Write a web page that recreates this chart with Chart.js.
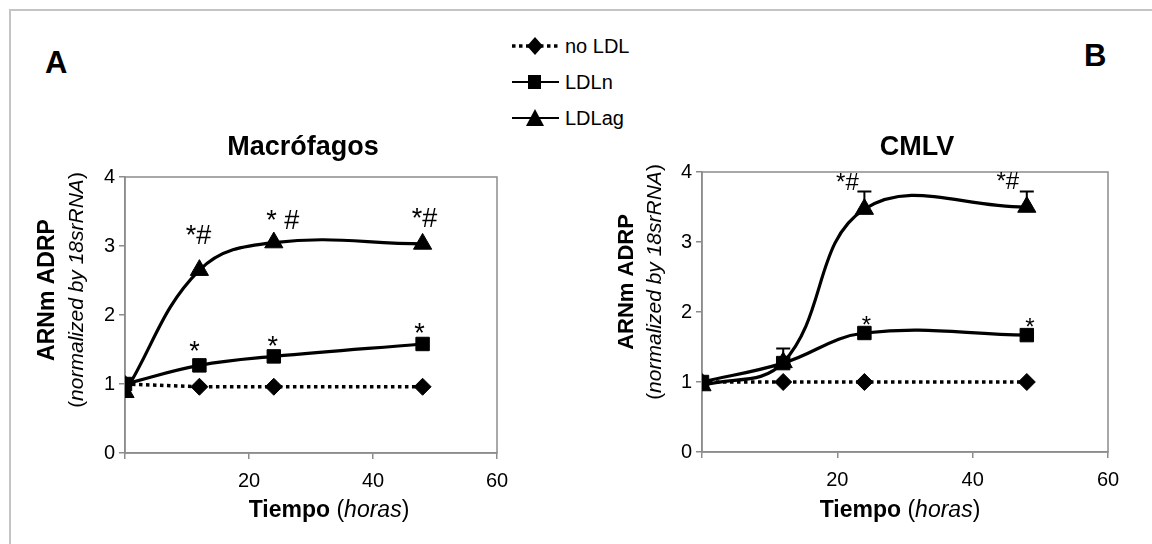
<!DOCTYPE html>
<html>
<head>
<meta charset="utf-8">
<script src="https://cdn.jsdelivr.net/npm/chart.js@4.4.0/dist/chart.umd.min.js"></script>
<style>
  html, body { margin: 0; padding: 0; background: #fff; }
  #page { position: relative; width: 1152px; height: 544px; overflow: hidden;
          font-family: "Liberation Sans", Arial, sans-serif; color: #000; }
  #frame { position: absolute; left: 9px; top: 9px; width: 1200px; height: 600px;
           border-left: 2px solid #c4c4c4; border-top: 2px solid #c4c4c4; }
  .panel { position: absolute; top: 0; }
  .letter { position: absolute; font-weight: bold; font-size: 31px; line-height: 1; }
  .leg { position: absolute; left: 511px; height: 22px; }
  .leg svg { position: absolute; left: 0; top: 0; }
  .leg span { position: absolute; left: 54px; top: 0; font-size: 20px; line-height: 22px; white-space: nowrap; }
</style>
</head>
<body>
<div id="page">
  <div id="frame"></div>
  <div class="letter" style="left:45px; top:47px;">A</div>
  <div class="letter" style="left:1084px; top:40px;">B</div>

  <div class="leg" style="top:35px;">
    <svg width="50" height="22"><line x1="1" y1="11" x2="48" y2="11" stroke="#000" stroke-width="3.5" stroke-dasharray="3.5 3.5"/>
      <polygon points="24,2 32,11 24,20 16,11" fill="#000"/></svg>
    <span>no LDL</span>
  </div>
  <div class="leg" style="top:71px;">
    <svg width="50" height="22"><line x1="1" y1="11" x2="48" y2="11" stroke="#000" stroke-width="2"/>
      <rect x="17" y="4" width="13" height="14" fill="#000"/></svg>
    <span>LDLn</span>
  </div>
  <div class="leg" style="top:107px;">
    <svg width="50" height="22"><line x1="1" y1="11" x2="48" y2="11" stroke="#000" stroke-width="2"/>
      <polygon points="24,2 33,19 15,19" fill="#000"/></svg>
    <span>LDLag</span>
  </div>

  <canvas id="macro" class="panel" style="left:0px;" width="576" height="544"></canvas>
  <canvas id="cmlv" class="panel" style="left:576px;" width="576" height="544"></canvas>
</div>

<script>
// time points (hours)
const hours = [0, 12, 24, 48];
const xTicks = [0, 20, 40, 60];
const yTicks = [0, 1, 2, 3, 4];

// Macrófagos
const macroNoLdl = [1.0, 0.96, 0.96, 0.96];
const macroLdln = [1.0, 1.27, 1.40, 1.58];
const macroLdlag = [0.88, 2.65, 3.05, 3.03];
const macroLdlnMarks = ['', '*', '*', '*'];
const macroLdlagMarks = ['', '*#', '* #', '*#'];

// CMLV
const cmlvNoLdl = [1.0, 1.0, 1.0, 1.0];
const cmlvLdln = [1.0, 1.27, 1.70, 1.67];
const cmlvLdlag = [0.95, 1.28, 3.47, 3.50];
const cmlvLdlnErr = [null, 1.48, null, null];
const cmlvLdlagErr = [null, null, 3.72, 3.72];
const cmlvLdlnMarks = ['', '', '*', '*'];
const cmlvLdlagMarks = ['', '', '*#', '*#'];

const FONT = '"Liberation Sans", Arial, sans-serif';
const AXIS = '#8c8c8c';

function pts(vals) {
    return vals.map((v, i) => ({ x: hours[i], y: v }));
}

// draws text made of parts with different fonts, centred on cx
function drawRich(ctx, parts, cx, cy) {
    let total = 0;
    parts.forEach(p => { ctx.font = p.font; p.w = ctx.measureText(p.text).width; total += p.w; });
    let xx = cx - total / 2;
    ctx.textAlign = 'left';
    parts.forEach(p => { ctx.font = p.font; ctx.fillText(p.text, xx, cy); xx += p.w; });
}

const panelDecor = {
    id: 'panelDecor',
    beforeDatasetsDraw(chart, args, o) {
        const { ctx, chartArea: a, scales: { x, y } } = chart;
        ctx.save();
        // plot box
        ctx.strokeStyle = AXIS;
        ctx.lineWidth = 1.5;
        ctx.strokeRect(a.left, a.top, a.right - a.left, a.bottom - a.top);
        // error bars
        ctx.strokeStyle = '#000';
        ctx.lineWidth = 2;
        (o.errors || []).forEach(e => {
            e.top.forEach((t, i) => {
                if (t == null) return;
                const px = x.getPixelForValue(hours[i]);
                const y0 = y.getPixelForValue(e.base[i]);
                const y1 = y.getPixelForValue(t);
                ctx.beginPath();
                ctx.moveTo(px, y0); ctx.lineTo(px, y1);
                ctx.moveTo(px - 7, y1); ctx.lineTo(px + 7, y1);
                ctx.stroke();
            });
        });
        ctx.restore();
    },
    afterDraw(chart, args, o) {
        const { ctx, scales: { x, y } } = chart;
        ctx.save();
        ctx.fillStyle = '#000';
        ctx.textBaseline = 'middle';
        // panel title
        ctx.font = 'bold 27px ' + FONT;
        ctx.textAlign = 'center';
        ctx.fillText(o.title, o.titleX, o.titleY);
        // x title
        drawRich(ctx, [
            { text: 'Tiempo ', font: 'bold 23px ' + FONT },
            { text: '(', font: '23px ' + FONT },
            { text: 'horas', font: 'italic 23px ' + FONT },
            { text: ')', font: '23px ' + FONT }
        ], o.xTitleX, o.xTitleY);
        // y title, two rotated lines
        ctx.save();
        ctx.translate(o.yTitleX1, o.yTitleY);
        ctx.rotate(-Math.PI / 2);
        drawRich(ctx, [{ text: 'ARNm ADRP', font: 'bold ' + o.yFont1 + 'px ' + FONT }], 0, 0);
        ctx.restore();
        ctx.save();
        ctx.translate(o.yTitleX2, o.yTitleY);
        ctx.rotate(-Math.PI / 2);
        drawRich(ctx, [
            { text: '(', font: o.yFont2 + 'px ' + FONT },
            { text: 'normalized by 18srRNA', font: 'italic ' + o.yFont2 + 'px ' + FONT },
            { text: ')', font: o.yFont2 + 'px ' + FONT }
        ], 0, 0);
        ctx.restore();
        // significance marks
        ctx.textBaseline = 'alphabetic';
        ctx.textAlign = 'center';
        ctx.font = o.markFont + 'px ' + FONT;
        o.marks.forEach(m => {
            m.labels.forEach((t, i) => {
                if (!t) return;
                const px = x.getPixelForValue(hours[i]) + m.dx[i];
                const py = y.getPixelForValue(m.values[i]) + m.dy[i];
                ctx.fillText(t, px, py);
            });
        });
        ctx.restore();
    }
};

function makePanel(id, series, area, decor) {
    const ctx = document.getElementById(id).getContext('2d');
    return new Chart(ctx, {
        type: 'line',
        data: {
            datasets: [{
                label: 'LDLn',
                data: pts(series.ldln),
                borderColor: '#000', borderWidth: 3.2, tension: 0.4,
                pointStyle: 'rect', pointRadius: 9.5,
                pointBackgroundColor: '#000', pointBorderColor: '#000', pointBorderWidth: 1
            }, {
                label: 'LDLag',
                data: pts(series.ldlag),
                borderColor: '#000', borderWidth: 3.2, tension: 0.4,
                pointStyle: 'triangle', pointRadius: 10.5,
                pointBackgroundColor: '#000', pointBorderColor: '#000', pointBorderWidth: 1
            }, {
                label: 'no LDL',
                data: pts(series.noLdl),
                borderColor: '#000', borderWidth: 3.5, borderDash: [3.5, 3.5], tension: 0,
                pointStyle: 'rectRot', pointRadius: 8.5,
                pointBackgroundColor: '#000', pointBorderColor: '#000', pointBorderWidth: 1
            }]
        },
        options: {
            responsive: false,
            animation: false,
            events: [],
            layout: { padding: { top: area.top, right: 576 - area.right, bottom: 0, left: 0 } },
            plugins: {
                legend: { display: false },
                tooltip: { enabled: false },
                panelDecor: decor
            },
            scales: {
                x: {
                    type: 'linear', min: xTicks[0], max: xTicks[xTicks.length - 1],
                    afterBuildTicks: s => { s.ticks = xTicks.map(v => ({ value: v })); },
                    afterFit: s => { s.height = 544 - area.bottom; },
                    ticks: {
                        callback: v => (v === 0 ? '' : v),
                        font: { family: FONT, size: 20 }, color: '#000', padding: 10, maxRotation: 0
                    },
                    grid: { drawOnChartArea: false, tickLength: 6, color: AXIS, lineWidth: 1.5 },
                    border: { color: AXIS, width: 1.5 }
                },
                y: {
                    min: yTicks[0], max: yTicks[yTicks.length - 1],
                    afterBuildTicks: s => { s.ticks = yTicks.map(v => ({ value: v })); },
                    afterFit: s => { s.width = area.left; },
                    ticks: { font: { family: FONT, size: 20 }, color: '#000', padding: 4 },
                    grid: { drawOnChartArea: false, tickLength: 6, color: AXIS, lineWidth: 1.5 },
                    border: { color: AXIS, width: 1.5 }
                }
            }
        },
        plugins: [panelDecor]
    });
}

makePanel('macro',
    { noLdl: macroNoLdl, ldln: macroLdln, ldlag: macroLdlag },
    { left: 125, right: 497, top: 177, bottom: 453 },
    {
        title: 'Macrófagos', titleX: 303, titleY: 148,
        xTitleX: 329, xTitleY: 511,
        yTitleX1: 48, yTitleX2: 77, yTitleY: 290, yFont1: 23, yFont2: 21,
        markFont: 27,
        marks: [
            { values: macroLdlag, labels: macroLdlagMarks, dx: [0, -1, 9, 2], dy: [0, -26, -14, -17] },
            { values: macroLdln, labels: macroLdlnMarks, dx: [0, -5, -1, -3], dy: [0, -5, -1, -2] }
        ],
        errors: []
    });

makePanel('cmlv',
    { noLdl: cmlvNoLdl, ldln: cmlvLdln, ldlag: cmlvLdlag },
    { left: 126, right: 532, top: 172, bottom: 452 },
    {
        title: 'CMLV', titleX: 341, titleY: 148,
        xTitleX: 324, xTitleY: 511,
        yTitleX1: 51, yTitleX2: 79, yTitleY: 282, yFont1: 22, yFont2: 21,
        markFont: 24,
        marks: [
            { values: cmlvLdlag, labels: cmlvLdlagMarks, dx: [0, 0, -17, -19], dy: [0, 0, -19, -18] },
            { values: cmlvLdln, labels: cmlvLdlnMarks, dx: [0, 0, 2, 3], dy: [0, 0, 0, 0] }
        ],
        errors: [
            { base: cmlvLdln, top: cmlvLdlnErr },
            { base: cmlvLdlag, top: cmlvLdlagErr }
        ]
    });
</script>
</body>
</html>
